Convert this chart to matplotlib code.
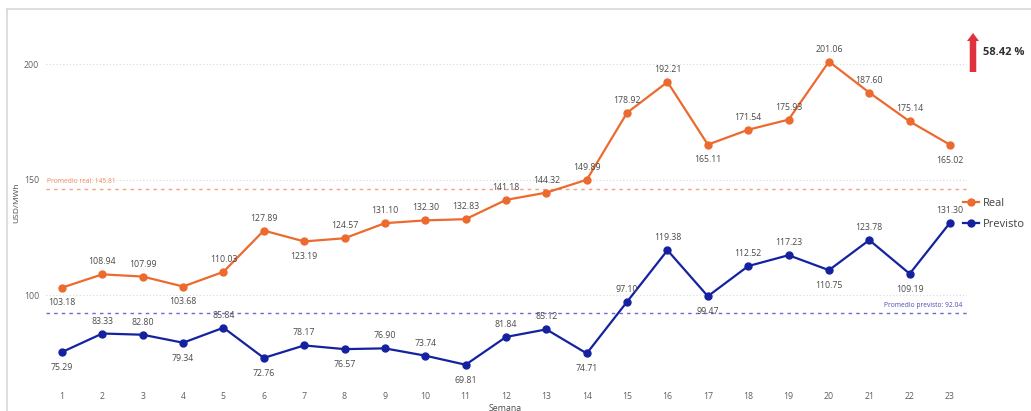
import numpy as np
import matplotlib.pyplot as plt
from matplotlib.patches import FancyArrow
from matplotlib.lines import Line2D

plt.rcParams['font.family'] = ['Open Sans', 'DejaVu Sans']

semanas = list(range(1, 24))
real = [103.18, 108.94, 107.99, 103.68, 110.03, 127.89, 123.19, 124.57, 131.10, 132.30,
        132.83, 141.18, 144.32, 149.89, 178.92, 192.21, 165.11, 171.54, 175.93, 201.06,
        187.60, 175.14, 165.02]
previsto = [75.29, 83.33, 82.80, 79.34, 85.84, 72.76, 78.17, 76.57, 76.90, 73.74,
            69.81, 81.84, 85.12, 74.71, 97.10, 119.38, 99.47, 112.52, 117.23, 110.75,
            123.78, 109.19, 131.30]
prom_real = 145.81
prom_previsto = 92.04
variacion = "58.42 %"

c_real = '#EC6A2E'
c_prev = '#1522A0'
c_text = '#4a4a4a'

fig = plt.figure(figsize=(10.31, 4.11), dpi=100)
ax = fig.add_axes([46 / 1031, 1 - 385 / 411, (967 - 46) / 1031, (385 - 20) / 411])

# frame around the visual
fig.add_artist(Line2D([7 / 1031, 1], [1 - 9 / 411, 1 - 9 / 411], transform=fig.transFigure,
                      color='#d8d8d8', lw=1.2))
fig.add_artist(Line2D([7 / 1031, 7 / 1031], [0, 1 - 9 / 411], transform=fig.transFigure,
                      color='#d8d8d8', lw=1.2))

ax.set_xlim(0.604, 23.42)
ax.set_ylim(61.04, 219.05)

for v in [100, 150, 200]:
    ax.axhline(v, color='#d9d9d9', lw=0.8, ls=(0, (1, 2)), zorder=0)

ax.axhline(prom_real, color='#F2A27E', lw=1.0, ls=(0, (2.5, 3)), zorder=1)
ax.axhline(prom_previsto, color='#6A6AD0', lw=1.0, ls=(0, (2.5, 3)), zorder=1)
ax.text(0.62, prom_real + 3.5, f'Promedio real: {prom_real:.2f}', color='#F08C60',
        fontsize=4.8, va='center', ha='left')
ax.text(23.3, prom_previsto + 3.5, f'Promedio previsto: {prom_previsto:.2f}', color='#4A4AB8',
        fontsize=4.8, va='center', ha='right')

ax.plot(semanas, real, color=c_real, lw=1.6, marker='o', ms=5, label='Real', zorder=3)
ax.plot(semanas, previsto, color=c_prev, lw=1.6, marker='o', ms=5, label='Previsto', zorder=3)


def etiquetas(vals):
    n = len(vals)
    for i, v in enumerate(vals):
        vecinos = []
        if i > 0:
            vecinos.append(vals[i - 1])
        if i < n - 1:
            vecinos.append(vals[i + 1])
        abajo = all(v < w for w in vecinos)
        off = -11 if abajo else 9
        ax.annotate(f'{v:.2f}', (semanas[i], v), xytext=(0, off), textcoords='offset points',
                    ha='center', va='center', fontsize=6.3, color=c_text, zorder=4)


etiquetas(real)
etiquetas(previsto)

ax.set_xticks(semanas)
ax.set_yticks([100, 150, 200])
ax.tick_params(axis='both', length=0, labelsize=6.3, labelcolor='#606060')
ax.tick_params(axis='x', pad=5)
ax.tick_params(axis='y', pad=5)
for s in ax.spines.values():
    s.set_visible(False)

fig.text(17 / 1031, 1 - 203 / 411, 'USD/MWh', rotation=90, fontsize=6, color=c_text,
         ha='center', va='center')
fig.text(505 / 1031, 1 - 408 / 411, 'Semana', fontsize=6.3, color=c_text,
         ha='center', va='center')

ax.legend(loc='center left', bbox_to_anchor=(963 / 1031, 1 - 214 / 411),
          bbox_transform=fig.transFigure, frameon=False, fontsize=7.9,
          handlelength=1.5, handletextpad=0.35, labelspacing=0.85, borderaxespad=0,
          borderpad=0, labelcolor='#404040')

# variation indicator
fig.add_artist(FancyArrow(9.73, (411 - 72) / 100, 0, 0.39, width=0.065, head_width=0.12,
                          head_length=0.08, length_includes_head=True,
                          transform=fig.dpi_scale_trans, color='#E0313F', lw=0))
fig.text(983 / 1031, 1 - 52 / 411, variacion, fontsize=8, fontweight='bold', color='#303030',
         ha='left', va='center')

fig.savefig('out.png', dpi=100)
